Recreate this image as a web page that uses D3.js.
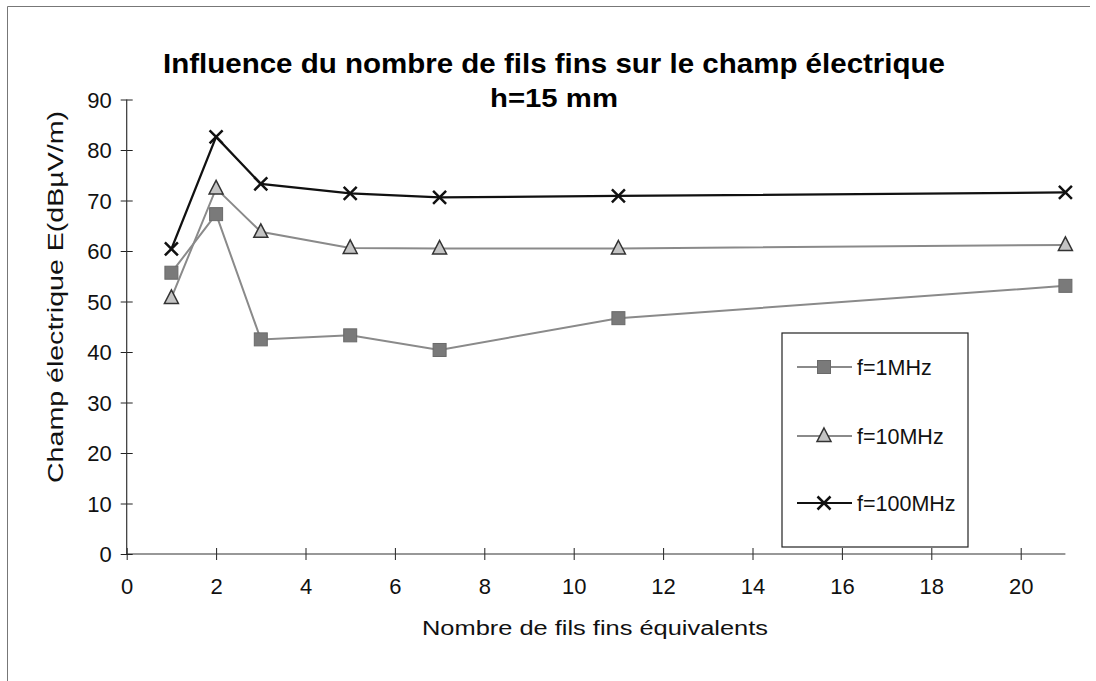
<!DOCTYPE html>
<html>
<head>
<meta charset="utf-8">
<script src="https://cdn.jsdelivr.net/npm/d3@7"></script>
<style>
  html, body { margin: 0; padding: 0; background: #fff; }
  svg { display: block; font-family: "Liberation Sans", Arial, Helvetica, sans-serif; }
</style>
</head>
<body>
<svg id="chart" width="1096" height="681"></svg>
<script>
// ---- data ----
const xValues = [1, 2, 3, 5, 7, 11, 21];
const f1MHz   = [55.7, 67.3, 42.5, 43.3, 40.4, 46.7, 53.1];
const f10MHz  = [50.7, 72.4, 63.8, 60.6, 60.5, 60.5, 61.2];
const f100MHz = [60.4, 82.6, 73.3, 71.4, 70.6, 70.9, 71.6];
const seriesNames = ["f=1MHz", "f=10MHz", "f=100MHz"];
const xTicks = [0, 2, 4, 6, 8, 10, 12, 14, 16, 18, 20];
const yTicks = [0, 10, 20, 30, 40, 50, 60, 70, 80, 90];
const titleText = "Influence du nombre de fils fins sur le champ électrique";
const subtitleText = "h=15 mm";
const xTitle = "Nombre de fils fins équivalents";
const yTitle = "Champ électrique E(dBµV/m)";

const svg = d3.select("#chart");
const x = d3.scaleLinear().domain([0, 21]).range([126.7, 1065.4]);
const y = d3.scaleLinear().domain([0, 90]).range([554, 99.5]);

// outer frame (left + top edges visible)
svg.append("path").attr("d", "M7.5,681 L7.5,6.5 L1090,6.5")
  .attr("fill", "none").attr("stroke", "#777").attr("stroke-width", 1);

// title
svg.append("text").attr("x", 554).attr("y", 73).attr("text-anchor", "middle")
  .attr("font-size", 28).attr("font-weight", "bold")
  .attr("textLength", 782).attr("lengthAdjust", "spacingAndGlyphs")
  .text(titleText);
svg.append("text").attr("x", 554).attr("y", 107).attr("text-anchor", "middle")
  .attr("font-size", 25).attr("font-weight", "bold")
  .attr("textLength", 128).attr("lengthAdjust", "spacingAndGlyphs")
  .text(subtitleText);

// axes
const xAxis = d3.axisBottom(x).tickValues(xTicks).tickSize(0).tickPadding(0).tickFormat(d3.format("d"));
const gx = svg.append("g").attr("transform", `translate(0,${y(0)})`).call(xAxis);
gx.select(".domain").remove();
gx.selectAll(".tick line").attr("y1", -6).attr("y2", 6).attr("stroke", "#222");
gx.selectAll(".tick text").attr("y", 40).attr("dy", null).attr("font-size", 22)
  .attr("font-family", "Liberation Sans, Arial, sans-serif").attr("fill", "#111");
svg.append("line").attr("x1", x(0)).attr("x2", x(21)).attr("y1", y(0)).attr("y2", y(0))
  .attr("stroke", "#333").attr("stroke-width", 1.2);

const yAxis = d3.axisLeft(y).tickValues(yTicks).tickSize(0).tickPadding(0).tickFormat(d3.format("d"));
const gy = svg.append("g").attr("transform", `translate(${x(0)},0)`).call(yAxis);
gy.select(".domain").remove();
gy.selectAll(".tick line").attr("x1", -6).attr("x2", 6).attr("stroke", "#222");
gy.selectAll(".tick text").attr("x", -15).attr("dy", "0.35em").attr("font-size", 22)
  .attr("font-family", "Liberation Sans, Arial, sans-serif").attr("fill", "#111");
svg.append("line").attr("x1", x(0)).attr("x2", x(0)).attr("y1", y(0)).attr("y2", y(90))
  .attr("stroke", "#333").attr("stroke-width", 1.2);

// axis titles
svg.append("text").attr("x", 595).attr("y", 635).attr("text-anchor", "middle")
  .attr("font-size", 20).attr("textLength", 346).attr("lengthAdjust", "spacingAndGlyphs")
  .attr("fill", "#111").text(xTitle);
svg.append("text").attr("transform", "translate(63,297) rotate(-90)").attr("text-anchor", "middle")
  .attr("font-size", 22).attr("textLength", 372).attr("lengthAdjust", "spacingAndGlyphs")
  .attr("fill", "#111").text(yTitle);

// series
const series = [
  { name: seriesNames[0], values: f1MHz,   stroke: "#8a8a8a", width: 2, marker: "square" },
  { name: seriesNames[1], values: f10MHz,  stroke: "#8a8a8a", width: 2, marker: "triangle" },
  { name: seriesNames[2], values: f100MHz, stroke: "#111",    width: 2.2, marker: "cross" }
];

const line = d3.line().x(d => x(d[0])).y(d => y(d[1]));

function drawMarker(g, type, cx, cy) {
  if (type === "square") {
    g.append("rect").attr("x", cx - 6.5).attr("y", cy - 6.5).attr("width", 13).attr("height", 13)
      .attr("fill", "#7a7a7a").attr("stroke", "#6a6a6a").attr("stroke-width", 1);
  } else if (type === "triangle") {
    g.append("path").attr("d", `M${cx},${cy - 8} L${cx + 7},${cy + 5.5} L${cx - 7},${cy + 5.5} Z`)
      .attr("fill", "#c4c4c4").attr("stroke", "#333").attr("stroke-width", 1.5);
  } else {
    const s = 6.5;
    g.append("path").attr("d", `M${cx - s},${cy - s} L${cx + s},${cy + s} M${cx - s},${cy + s} L${cx + s},${cy - s}`)
      .attr("stroke", "#111").attr("stroke-width", 2.5).attr("fill", "none");
  }
}

series.forEach(s => {
  const pts = xValues.map((xv, i) => [xv, s.values[i]]);
  svg.append("path").datum(pts).attr("d", line).attr("fill", "none")
    .attr("stroke", s.stroke).attr("stroke-width", s.width);
  const g = svg.append("g");
  pts.forEach(p => drawMarker(g, s.marker, x(p[0]), y(p[1])));
});

// legend
svg.append("rect").attr("x", 782).attr("y", 333).attr("width", 186).attr("height", 214)
  .attr("fill", "#fff").attr("stroke", "#222").attr("stroke-width", 1.2);
const legendY = [367, 436, 503];
series.forEach((s, i) => {
  const g = svg.append("g");
  g.append("line").attr("x1", 797).attr("x2", 852).attr("y1", legendY[i]).attr("y2", legendY[i])
    .attr("stroke", s.stroke).attr("stroke-width", s.width);
  drawMarker(g, s.marker, 824, legendY[i]);
  g.append("text").attr("x", 857).attr("y", legendY[i]).attr("dy", "0.35em")
    .attr("font-size", 21.5).attr("fill", "#111").text(s.name);
});
</script>
</body>
</html>
